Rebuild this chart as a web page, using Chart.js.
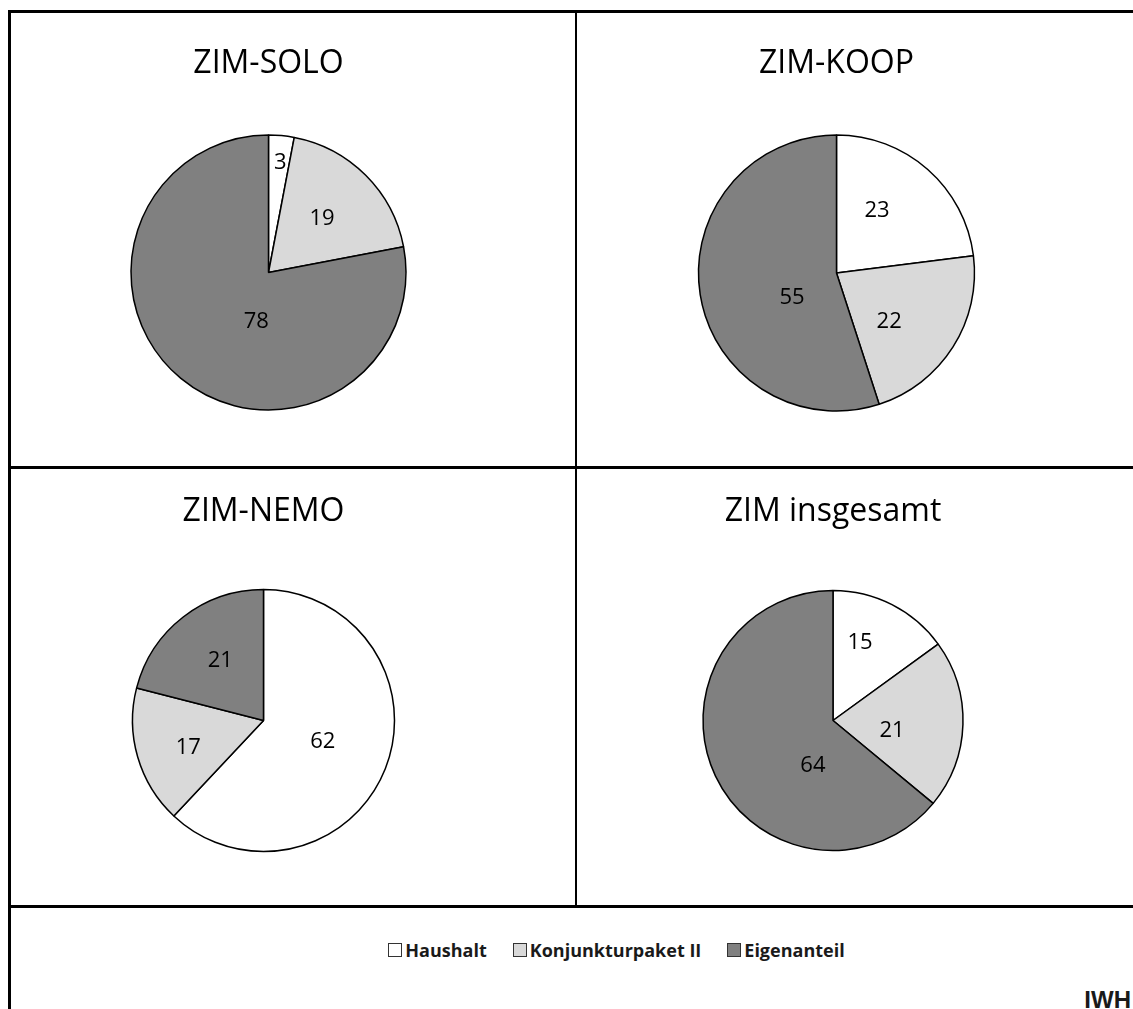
<!DOCTYPE html>
<html>
<head>
<meta charset="utf-8">
<script src="https://cdn.jsdelivr.net/npm/chart.js@4/dist/chart.umd.min.js"></script>
<style>
  html, body { margin:0; padding:0; background:#fff; }
  body { width:1133px; height:1009px; position:relative; overflow:hidden; font-family:"Open Sans", sans-serif; }
  .line { position:absolute; background:#000; }
  canvas { position:absolute; }
  #legend { position:absolute; top:938px; left:0; width:1233px; height:24px; display:flex; justify-content:center; align-items:center; gap:26px; }
  .item { display:flex; align-items:center; font-family:"Open Sans", sans-serif; font-weight:700; font-size:18px; color:#1a1a1a; line-height:24px; white-space:pre; }
  .sw { width:12px; height:12px; border:1px solid #333; margin-right:3px; }
  #iwh { position:absolute; right:2px; top:988px; font-family:"Liberation Sans", Arial, sans-serif; font-weight:700; font-size:24px; line-height:24px; color:#1a1a1a; }
</style>
</head>
<body>
<div class="line" style="left:8px; top:10px; width:1125px; height:3px;"></div>
<div class="line" style="left:8px; top:10px; width:3px; height:999px;"></div>
<div class="line" style="left:575px; top:10px; width:2px; height:897px;"></div>
<div class="line" style="left:8px; top:466px; width:1125px; height:3px;"></div>
<div class="line" style="left:8px; top:905px; width:1125px; height:3px;"></div>

<canvas id="c1"></canvas>
<canvas id="c2"></canvas>
<canvas id="c3"></canvas>
<canvas id="c4"></canvas>

<div id="legend"></div>
<div id="iwh">IWH</div>

<script>
// ---- Data ----
const categories = ["Haushalt", "Konjunkturpaket II", "Eigenanteil"];
const titles = ["ZIM-SOLO", "ZIM-KOOP", "ZIM-NEMO", "ZIM insgesamt"];
const soloValues = [3, 19, 78];
const koopValues = [23, 22, 55];
const nemoValues = [62, 17, 21];
const gesamtValues = [15, 21, 64];

// ---- Styles ----
const sliceColors = ["#FFFFFF", "#D9D9D9", "#808080"];
const borderW = 1.5;

// label placement: [angle shift from slice middle (deg), fraction of radius]
const placements = [
  [[0.8, 0.80], [0, 0.55], [-25.8, 0.37]],
  [[-8.4, 0.54], [10.4, 0.52], [-20.6, 0.37]],
  [[-2, 0.48], [-3.6, 0.61], [1.7, 0.56]],
  [[-7.7, 0.63], [7.8, 0.46], [-40.8, 0.38]]
];

// panel layout: cell box, pie centre and radius, title centre
const panels = [
  { left: 11,  top: 13,  width: 564, height: 453, cx: 268.5, cy: 272.5, r: 137.5, ty: 64 },
  { left: 578, top: 13,  width: 555, height: 453, cx: 836.5, cy: 273,   r: 138,   ty: 64 },
  { left: 11,  top: 469, width: 564, height: 437, cx: 263.5, cy: 720.5, r: 131,   ty: 512 },
  { left: 578, top: 469, width: 555, height: 437, cx: 833,   cy: 720.5, r: 130,   ty: 512 }
];

const sliceLabels = {
  id: 'sliceLabels',
  afterDatasetsDraw(chart, args, opts) {
    const ctx = chart.ctx;
    const meta = chart.getDatasetMeta(0);
    const data = chart.data.datasets[0].data;
    ctx.save();
    ctx.font = opts.font;
    ctx.fillStyle = opts.color;
    ctx.textAlign = 'center';
    ctx.textBaseline = 'middle';
    meta.data.forEach((arc, i) => {
      const p = arc.getProps(['x', 'y', 'outerRadius', 'startAngle', 'endAngle'], true);
      const pl = opts.placement[i] || [0, 0.55];
      const ang = (p.startAngle + p.endAngle) / 2 + pl[0] * Math.PI / 180;
      const d = p.outerRadius * pl[1];
      ctx.fillText(String(data[i]), p.x + Math.cos(ang) * d, p.y + Math.sin(ang) * d + opts.dy);
    });
    ctx.restore();
  }
};

const titleSize = 32, titleLH = 1.2;

function makeChart(id, title, values, box, placement) {
  const cv = document.getElementById(id);
  cv.style.left = box.left + 'px';
  cv.style.top = box.top + 'px';
  cv.width = box.width;
  cv.height = box.height;
  cv.style.width = box.width + 'px';
  cv.style.height = box.height + 'px';
  const half = box.r + borderW / 2;
  const padL = (box.cx - box.left) - half;
  const padR = (box.left + box.width) - (box.cx + half);
  const padB = (box.top + box.height) - (box.cy + half);
  const tTop = (box.ty - box.top) - titleSize * titleLH / 2;
  const areaTop = (box.cy - box.top) - half;
  const tBottom = areaTop - tTop - titleSize * titleLH;
  return new Chart(cv, {
    type: 'pie',
    data: {
      labels: categories,
      datasets: [{
        data: values,
        backgroundColor: sliceColors,
        borderColor: '#000000',
        borderWidth: borderW,
        borderAlign: 'center'
      }]
    },
    options: {
      responsive: false,
      animation: false,
      events: [],
      layout: { padding: { left: padL, right: padR, top: 0, bottom: padB } },
      plugins: {
        legend: { display: false },
        tooltip: { enabled: false },
        title: {
          display: true,
          text: title,
          color: '#000000',
          font: { family: '"Open Sans", sans-serif', size: titleSize, weight: 'normal', lineHeight: titleLH },
          padding: { top: tTop, bottom: tBottom }
        },
        sliceLabels: {
          font: '22px "Open Sans", sans-serif',
          color: '#000000',
          dy: 0,
          placement: placement
        }
      }
    },
    plugins: [sliceLabels]
  });
}

makeChart('c1', titles[0], soloValues, panels[0], placements[0]);
makeChart('c2', titles[1], koopValues, panels[1], placements[1]);
makeChart('c3', titles[2], nemoValues, panels[2], placements[2]);
makeChart('c4', titles[3], gesamtValues, panels[3], placements[3]);

// ---- Legend ----
const legend = document.getElementById('legend');
categories.forEach((c, i) => {
  const it = document.createElement('div');
  it.className = 'item';
  const sw = document.createElement('span');
  sw.className = 'sw';
  sw.style.background = sliceColors[i];
  const tx = document.createElement('span');
  tx.textContent = c;
  it.appendChild(sw);
  it.appendChild(tx);
  legend.appendChild(it);
});
</script>
</body>
</html>
